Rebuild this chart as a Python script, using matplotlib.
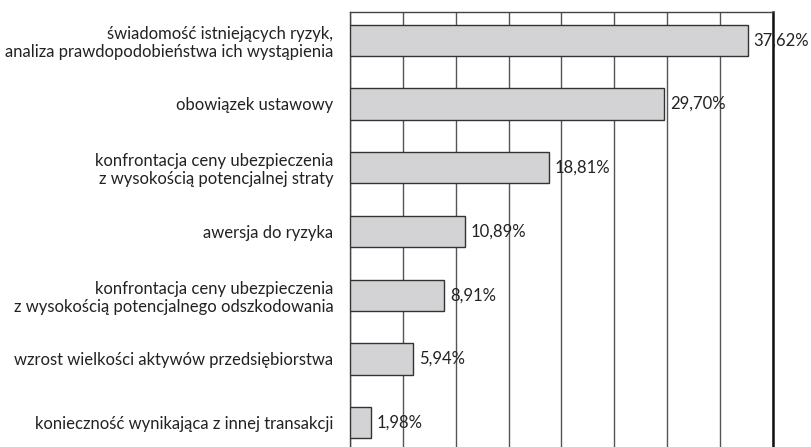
import matplotlib.pyplot as plt

categories = [
    'świadomość istniejących ryzyk,\nanaliza prawdopodobieństwa ich wystąpienia',
    'obowiązek ustawowy',
    'konfrontacja ceny ubezpieczenia\nz wysokością potencjalnej straty',
    'awersja do ryzyka',
    'konfrontacja ceny ubezpieczenia\nz wysokością potencjalnego odszkodowania',
    'wzrost wielkości aktywów przedsiębiorstwa',
    'konieczność wynikająca z innej transakcji',
]
values = [37.62, 29.70, 18.81, 10.89, 8.91, 5.94, 1.98]
value_labels = ['37,62%', '29,70%', '18,81%', '10,89%', '8,91%', '5,94%', '1,98%']

plt.rcParams['font.family'] = ['Lato', 'DejaVu Sans']

fig = plt.figure(figsize=(8.12, 4.47), dpi=100)
ax = fig.add_axes([0.431, 0.0, 0.521, 0.973])

y = list(range(len(categories)))
ax.barh(y, values, height=0.49, color='#d3d3d5', edgecolor='#333333',
        linewidth=1.0, zorder=3)

for yi, v, lab in zip(y, values, value_labels):
    ax.text(v + 0.55, yi, lab, va='center', ha='left', fontsize=12,
            color='#222222', zorder=4)

ax.set_xlim(0, 40)
ax.set_ylim(6.38, -0.44)
ax.set_xticks(range(0, 41, 5))
ax.tick_params(axis='x', length=0, labelbottom=False)
ax.set_yticks(y)
ax.set_yticklabels(categories, fontsize=12, color='#222222', linespacing=1.15)
ax.tick_params(axis='y', length=0, pad=12)
for lab in ax.get_yticklabels():
    lab.set_horizontalalignment('right')
    lab.set_multialignment('right')

ax.grid(axis='x', color='#555555', linewidth=1.0, zorder=0)
ax.set_axisbelow(True)
for side in ['left', 'top']:
    ax.spines[side].set_color('#444444')
    ax.spines[side].set_linewidth(1.0)
ax.spines['right'].set_color('#111111')
ax.spines['right'].set_linewidth(1.8)
ax.spines['bottom'].set_visible(False)

fig.savefig('out.png', dpi=100)
